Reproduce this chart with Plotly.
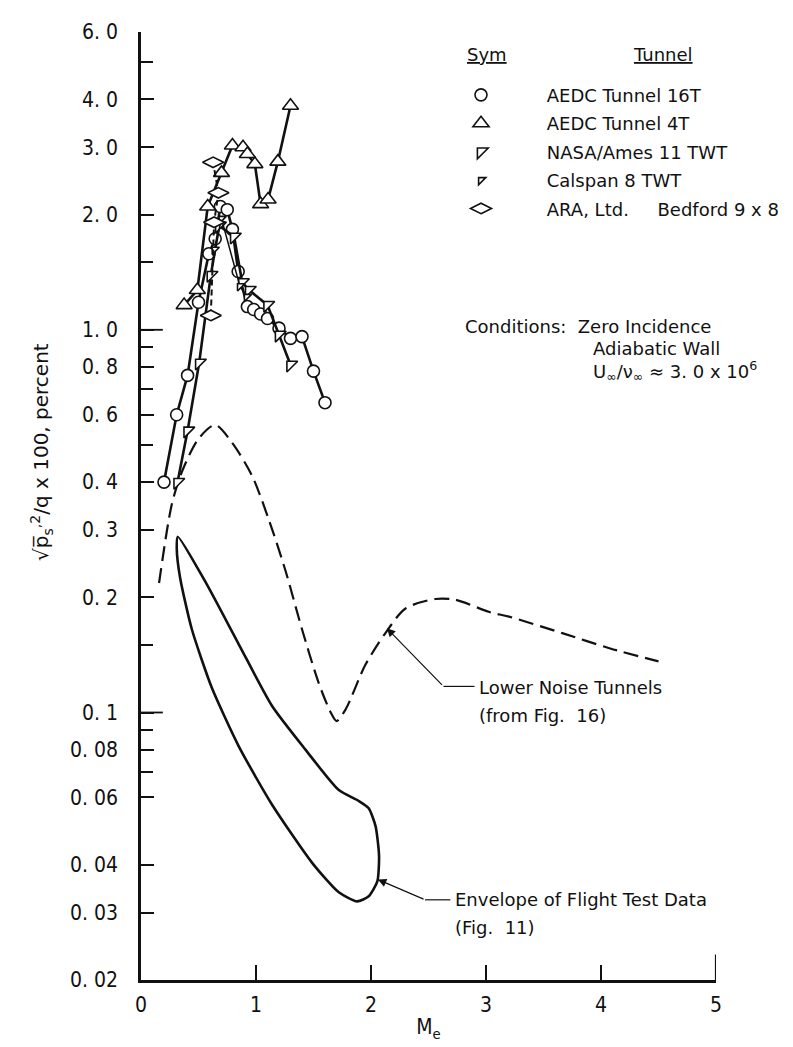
import math
import plotly.graph_objects as go

# ---------------- data ----------------
# AEDC Tunnel 16T (circles)
m_16t = [0.20, 0.31, 0.405, 0.50, 0.59, 0.645, 0.69, 0.75, 0.795, 0.845, 0.925, 0.98, 1.04, 1.10, 1.20, 1.30, 1.40, 1.50, 1.60]
p_16t = [0.40, 0.60, 0.76, 1.18, 1.58, 1.73, 2.10, 2.06, 1.83, 1.42, 1.15, 1.13, 1.10, 1.07, 1.01, 0.95, 0.96, 0.78, 0.645]
# AEDC Tunnel 4T (triangles)
m_4t = [0.375, 0.49, 0.58, 0.70, 0.795, 0.887, 0.925, 0.99, 1.04, 1.105, 1.19, 1.30]
p_4t = [1.16, 1.27, 2.10, 2.57, 3.03, 3.00, 2.88, 2.71, 2.13, 2.19, 2.75, 3.85]
# NASA/Ames 11 TWT
m_nasa = [0.318, 0.405, 0.506, 0.607, 0.68, 0.81, 0.88, 0.94, 1.10, 1.20, 1.30]
p_nasa = [0.40, 0.545, 0.82, 1.39, 1.87, 1.75, 1.33, 1.27, 1.16, 0.97, 0.81]
# Calspan 8 TWT
m_cal = [0.64, 0.70, 0.86, 0.92]
p_cal = [1.62, 1.95, 1.30, 1.22]
# ARA, Ltd. Bedford 9 x 8
m_ara = [0.607, 0.636, 0.673, 0.627]
p_ara = [1.09, 1.91, 2.28, 2.74]
# Lower noise tunnels (from Fig. 16)
m_low = [0.157, 0.267, 0.355, 0.50, 0.645, 0.79, 0.965, 1.11, 1.256, 1.40, 1.547, 1.65, 1.70, 1.78,
         1.95, 2.13, 2.30, 2.56, 2.735, 3.03, 3.20, 3.67, 4.08, 4.50]
p_low = [0.218, 0.349, 0.425, 0.519, 0.564, 0.508, 0.416, 0.320, 0.235, 0.165, 0.119, 0.100, 0.095, 0.102,
         0.133, 0.162, 0.187, 0.198, 0.197, 0.183, 0.178, 0.161, 0.147, 0.136]
# Envelope of flight test data (Fig. 11)
m_env = [0.32, 0.558, 0.849, 1.14, 1.43, 1.72, 1.895, 1.98, 2.04, 2.07, 2.055, 1.98, 1.88, 1.72,
         1.49, 1.14, 0.849, 0.616, 0.442, 0.34, 0.311, 0.32]
p_env = [0.288, 0.22, 0.151, 0.104, 0.080, 0.0627, 0.0587, 0.0562, 0.0504, 0.0422, 0.0362, 0.0331, 0.0321, 0.0339,
         0.0404, 0.0574, 0.0817, 0.116, 0.165, 0.225, 0.268, 0.288]

y_major = [6, 4, 3, 2, 1, 0.8, 0.6, 0.4, 0.3, 0.2, 0.1, 0.08, 0.06, 0.04, 0.03, 0.02]
y_major_text = ["6. 0", "4. 0", "3. 0", "2. 0", "1. 0", "0. 8", "0. 6", "0. 4", "0. 3", "0. 2",
                "0. 1", "0. 08", "0. 06", "0. 04", "0. 03", "0. 02"]
y_minor = [5, 1.5, 0.9, 0.7, 0.5, 0.15, 0.09, 0.07]
x_ticks = [0, 1, 2, 3, 4, 5]

FONT = "DejaVu Sans, Liberation Sans, Arial, sans-serif"
TICKFONT = "DejaVu Sans Condensed, DejaVu Sans, sans-serif"
BLACK = "#111111"
NB = "\u00a0"

# plot-area geometry in page pixels
L, R, T, B = 133, 708, 17, 972
def px_x(p):
    return (p - L) / (R - L)
def px_y(p):
    return (B - p) / (B - T)

fig = go.Figure()

fig.add_trace(go.Scatter(x=m_low, y=p_low, mode="lines", showlegend=False, hoverinfo="skip",
                         line=dict(color=BLACK, width=2.2, dash="15px,7px", shape="spline", smoothing=0.8)))
fig.add_trace(go.Scatter(x=m_env, y=p_env, mode="lines", showlegend=False, hoverinfo="skip",
                         line=dict(color=BLACK, width=2.6, shape="spline", smoothing=0.6)))

def series(name, xs, ys, symbol, size, dash="solid", lw=2.6):
    fig.add_trace(go.Scatter(x=xs, y=ys, mode="lines", showlegend=False, hoverinfo="skip",
                             legendgroup=name, line=dict(color=BLACK, width=lw, dash=dash)))
    fig.add_trace(go.Scatter(x=xs, y=ys, mode="markers", name=NB * 8 + name, legendgroup=name,
                             marker=dict(symbol=symbol, size=size, color="white",
                                         line=dict(color=BLACK, width=1.6))))

series("AEDC Tunnel 16T", m_16t, p_16t, "circle", 12)
series("AEDC Tunnel 4T", m_4t, p_4t, "triangle-up", 14)
series("NASA/Ames 11 TWT", m_nasa, p_nasa, "triangle-nw", 12)
series("Calspan 8 TWT", m_cal, p_cal, "triangle-nw", 8, lw=1.5)
series("ARA, Ltd." + NB * 4 + " Bedford 9 x 8", m_ara, p_ara, "diamond-wide", 15, dash="6px,4px", lw=2)

# leader lines (horizontal parts)
lead_low_x = [2.63, 2.90]
lead_low_y = [0.117, 0.117]
lead_env_x = [2.47, 2.69]
lead_env_y = [0.0324, 0.0324]
for lx, ly in ((lead_low_x, lead_low_y), (lead_env_x, lead_env_y)):
    fig.add_trace(go.Scatter(x=lx, y=ly, mode="lines", showlegend=False, hoverinfo="skip",
                             line=dict(color=BLACK, width=1.2)))

ann = []
for tip, elbow in (((2.138, 0.166), (2.63, 0.117)), ((2.06, 0.0366), (2.47, 0.0324))):
    ann.append(dict(x=tip[0], y=math.log10(tip[1]), ax=elbow[0], ay=math.log10(elbow[1]),
                    xref="x", yref="y", axref="x", ayref="y", text="", showarrow=True,
                    arrowhead=2, arrowsize=1.4, arrowwidth=1.2, arrowcolor=BLACK))

def label(x, y, text, size=18):
    ann.append(dict(x=x, y=math.log10(y), xref="x", yref="y", text=text, showarrow=False,
                    xanchor="left", yanchor="middle", font=dict(size=size, color=BLACK, family=FONT)))

label(2.92, 0.1165, "Lower Noise Tunnels")
label(2.92, 0.0985, "(from Fig.  16)")
label(2.71, 0.0324, "Envelope of Flight Test Data")
label(2.71, 0.0275, "(Fig.  11)")

def ptext(px, py, text, size=18):
    ann.append(dict(x=px_x(px), y=px_y(py), xref="paper", yref="paper", text=text,
                    showarrow=False, xanchor="left", yanchor="middle",
                    font=dict(size=size, color=BLACK, family=FONT)))

# legend header
ptext(457, 40, "<u>Sym</u>")
ptext(623, 40, "<u>Tunnel</u>")

ptext(455, 314, "Conditions:" + NB * 2 + "Zero Incidence")
ptext(583, 336, "Adiabatic Wall")
ptext(583, 359, "U<sub>\u221e</sub>/\u03bd<sub>\u221e</sub> \u2248 3. 0 x 10<sup>6</sup>")

# y axis title
ann.append(dict(x=px_x(34), y=px_y(440), xref="paper", yref="paper",
                text="\u221ap\u0305<sub>s</sub><sup>,2</sup>/q x 100, percent", textangle=-90,
                showarrow=False, xanchor="center", yanchor="middle",
                font=dict(size=20, color=BLACK, family=FONT)))

shapes = []
for v in (1.0, 0.1):
    shapes.append(dict(type="line", xref="x domain", yref="y", x0=0, x1=0.038, y0=v, y1=v,
                       line=dict(color=BLACK, width=1.8)))
shapes.append(dict(type="line", xref="x", yref="y domain", x0=5, x1=5, y0=0, y1=0.027,
                   line=dict(color=BLACK, width=2.2)))

fig.update_layout(
    width=793, height=1047,
    margin=dict(l=L, r=793 - R, t=T, b=1047 - B),
    paper_bgcolor="white", plot_bgcolor="white",
    font=dict(family=FONT, color=BLACK, size=18),
    showlegend=True,
    legend=dict(x=px_x(453), y=px_y(62), xanchor="left", yanchor="top",
                bgcolor="rgba(0,0,0,0)", font=dict(size=18, family=FONT, color=BLACK),
                itemsizing="trace", tracegroupgap=2),
    annotations=ann, shapes=shapes,
    xaxis=dict(range=[0, 5], tickvals=x_ticks, ticktext=[str(v) for v in x_ticks],
               showline=True, linecolor=BLACK, linewidth=2.6, ticks="inside", ticklen=15, tickwidth=1.8,
               tickcolor=BLACK, showgrid=False, zeroline=False, ticklabelstandoff=4,
               tickfont=dict(size=21, family=TICKFONT, color=BLACK),
               title=dict(text="M<sub>e</sub>", font=dict(size=21, family=TICKFONT), standoff=4)),
    yaxis=dict(type="log", range=[math.log10(0.02), math.log10(6)], tickvals=y_major, ticktext=y_major_text,
               showline=True, linecolor=BLACK, linewidth=2.6, ticks="inside", ticklen=13, tickwidth=1.8,
               tickcolor=BLACK, showgrid=False, zeroline=False, ticklabelstandoff=16,
               tickfont=dict(size=21, family=TICKFONT, color=BLACK),
               minor=dict(tickvals=y_minor, ticks="inside", ticklen=12, tickwidth=1.6, tickcolor=BLACK,
                          showgrid=False)),
)

fig.write_html("out.html", config={"displayModeBar": False})
